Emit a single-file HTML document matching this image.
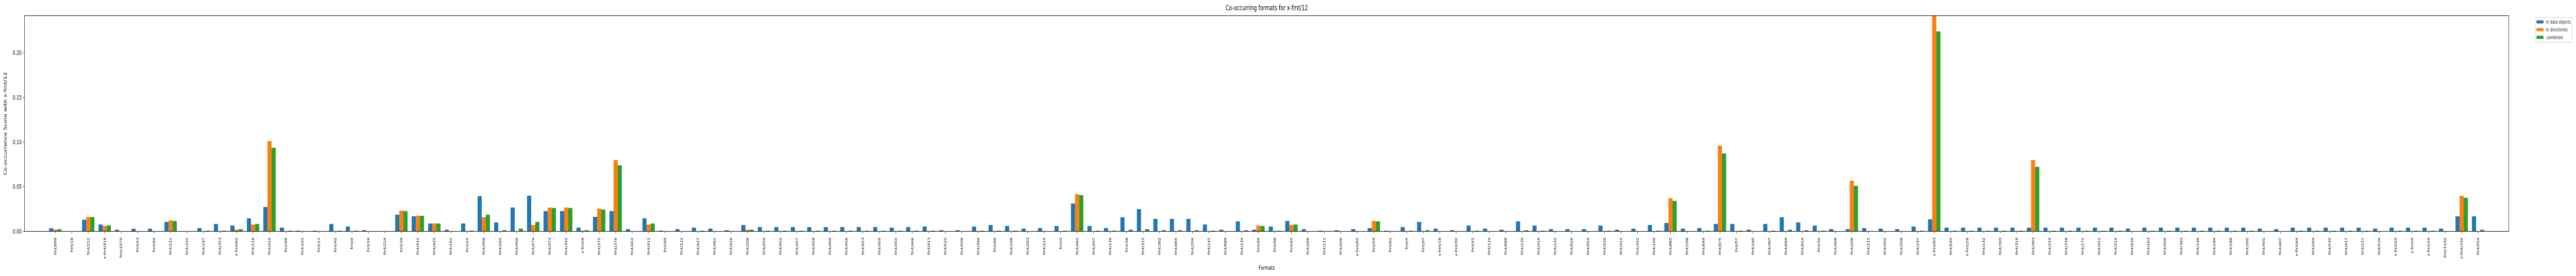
<!DOCTYPE html>
<html><head><meta charset="utf-8">
<style>
html,body{margin:0;padding:0;background:#fff;width:100%;height:100%;overflow:hidden;}
svg{display:block;width:100vw;height:100vh;font-family:"DejaVu Sans","Liberation Sans",sans-serif;}
</style></head>
<body>
<svg id="chart" viewBox="0 0 7380 536" preserveAspectRatio="none" xmlns="http://www.w3.org/2000/svg">
<defs><clipPath id="plotclip"><rect x="70.3" y="30.4" width="7117.4" height="419"/></clipPath></defs>
<rect width="7380" height="536" fill="#fff"/>
<text x="3629" y="20" text-anchor="middle" font-size="14" fill="#000">Co-occurring formats for x-fmt/12</text>
<text transform="translate(19,240) rotate(-90)" text-anchor="middle" font-size="11.5" fill="#000">Co-occurrence Score with x-fmt/12</text>
<text x="3629" y="524" text-anchor="middle" font-size="11.5" fill="#000">Formats</text>
<g id="bars" clip-path="url(#plotclip)"></g>
<g id="yaxis"></g>
<g id="xaxis"></g>
<rect x="70.3" y="30.4" width="7117.4" height="418.9" fill="none" stroke="#000" stroke-width="1"/>
<g>
<rect x="7263.5" y="34" width="106" height="48" rx="2" fill="#fff" stroke="#ccc" stroke-width="1"/>
<rect x="7267" y="39.5" width="20" height="6" fill="#1f77b4"/>
<text x="7294" y="46" font-size="9.5" fill="#222">in data-objects</text>
<rect x="7267" y="54.5" width="20" height="6" fill="#ff7f0e"/>
<text x="7294" y="61" font-size="9.5" fill="#222">in directories</text>
<rect x="7267" y="69.5" width="20" height="6" fill="#2ca02c"/>
<text x="7295" y="76" font-size="9.5" fill="#222">combined</text>
</g>
</svg>
<script>
const categories = ["fmt/899","fmt/18","fmt/212","x-fmt/418","fmt/1070","fmt/43","fmt/44","fmt/111","fmt/331","fmt/197",
"fmt/353","x-fmt/62","fmt/116","fmt/410","fmt/96","fmt/101","fmt/11","fmt/42","fmt/4","fmt/16",
"fmt/224","fmt/39","fmt/421","fmt/425","fmt/161","fmt/15","fmt/409","fmt/265","fmt/469","fmt/474",
"fmt/373","fmt/342","x-fmt/9","fmt/375","fmt/376","fmt/453","fmt/411","fmt/99","fmt/122","fmt/427",
"fmt/461","fmt/426","fmt/208","fmt/454","fmt/452","fmt/457","fmt/458","fmt/460","fmt/456","fmt/453",
"fmt/459","fmt/455","fmt/446","fmt/413","fmt/525","fmt/509","fmt/394","fmt/90","fmt/198","fmt/263",
"fmt/154","fmt/3","fmt/462","fmt/207","fmt/139","fmt/38","fmt/315","fmt/362","fmt/865","fmt/204",
"fmt/141","fmt/689","fmt/134","fmt/40","fmt/98","fmt/45","fmt/266","fmt/111","fmt/406","x-fmt/65",
"fmt/50","fmt/61","fmt/5","fmt/97","x-fmt/18","x-fmt/92","fmt/41","fmt/124","fmt/688","fmt/230",
"fmt/416","fmt/142","fmt/626","fmt/950","fmt/420","fmt/415","fmt/341","fmt/100","fmt/885","fmt/298",
"fmt/649","fmt/875","fmt/57","fmt/185","fmt/367","fmt/660","fmt/610","fmt/34","fmt/408","fmt/206",
"fmt/115","fmt/402","fmt/208","fmt/197","x-fmt/93","fmt/640","x-fmt/28","fmt/142","fmt/303","fmt/316",
"fmt/383","fmt/159","fmt/338","fmt/171","fmt/912","fmt/214","fmt/930","fmt/163","fmt/409","fmt/383",
"fmt/140","fmt/184","fmt/188","fmt/395","fmt/401","fmt/407","x-fmt/64","fmt/269","fmt/535","fmt/417",
"fmt/157","fmt/534","x-fmt/20","x-fmt/4","x-fmt/19","fmt/1102","x-fmt/334","fmt/554"];
const dataObjects = [.0035,0,.013,.0077,.0018,.003,.0031,.0106,0,.0037,
.0083,.0065,.0146,.0273,.0042,.0008,.0008,.0083,.0054,.0013,
0,.0187,.0169,.0088,.0019,.0088,.0394,.01,.0267,.04,
.0227,.0227,.0042,.0163,.0227,.0025,.0146,.0008,.0025,.0042,
.0031,.0013,.0071,.0048,.0048,.0048,.0048,.0048,.0048,.0048,
.0048,.0042,.0048,.0054,.0013,.0013,.0054,.0071,.006,.0031,
.0037,.006,.0313,.006,.0037,.0158,.025,.014,.014,.014,
.0077,.0019,.0112,.0019,.0054,.0117,.0025,.0008,.0013,.0025,
.0037,.0008,.0048,.0106,.0031,.0013,.0065,.0031,.0019,.0112,
.0065,.0025,.0025,.0025,.0065,.0019,.0031,.0071,.0094,.0031,
.0037,.0083,.0083,.0019,.0083,.0158,.01,.0065,.0025,.0025,
.0037,.0031,.0025,.0054,.0135,.0042,.0042,.0042,.0042,.0042,
.0042,.0042,.0042,.0042,.0042,.0042,.0031,.0042,.0042,.0042,
.0042,.0042,.0042,.0042,.0031,.0025,.0042,.0042,.0042,.0042,
.0042,.0031,.0042,.0042,.0042,.0031,.0168,.0168];
const directories = [.002,0,.016,.006,0,0,0,.0123,0,0,
0,.0019,.0077,.1011,0,0,0,0,0,0,
0,.0233,.0175,.0088,0,0,.0158,0,0,.0071,
.0267,.0267,.0008,.0256,.0798,0,.0077,0,0,0,
0,0,.0019,0,0,0,0,0,0,0,
0,0,0,0,0,0,0,0,0,0,
0,0,.0417,0,0,0,0,0,0,0,
0,0,0,.0065,0,.0071,0,0,0,0,
.0117,0,0,0,0,0,0,0,0,0,
0,0,0,0,0,0,0,0,.0371,0,
0,.096,0,0,0,0,0,0,0,.0567,
0,0,0,0,.25,0,0,0,0,0,
.0798,0,0,0,0,0,0,0,0,0,
0,0,0,0,0,0,0,0,0,0,
0,0,0,0,0,0,.0398,0];
const combined = [.0024,0,.016,.0067,0,0,0,.0117,0,.0008,
.0008,.0025,.0083,.0937,.0008,0,0,.0008,.0008,0,
0,.0227,.0175,.0088,0,.0008,.0187,.0013,.0031,.0106,
.0262,.0262,.0013,.0244,.074,0,.0088,0,0,.0008,
0,0,.0019,.0008,.0008,.0008,.0008,.0008,.0008,.0008,
.0008,.0008,.0008,.0008,0,0,.0008,.0008,.0008,0,
0,.0008,.0406,.0008,.0008,.0019,.0025,.0013,.0013,.0013,
.0008,0,.0013,.006,.0008,.0077,0,0,0,0,
.0112,0,.0008,.0013,0,0,.0008,0,0,.0013,
.0008,0,0,0,.0008,0,0,.0008,.0342,0,
.0008,.0873,.0008,0,.0008,.0019,.0013,.0008,0,.051,
0,0,0,.0008,.224,.0008,.0008,.0008,.0008,.0008,
.0723,.0008,.0008,.0008,.0008,.0008,0,.0008,.0008,.0008,
.0008,.0008,.0008,.0008,0,0,.0008,.0008,.0008,.0008,
.0008,0,.0008,.0008,.0008,0,.0376,.0018];
const yTickValues = [0,0.05,0.10,0.15,0.20];
const yTickLabels = ["0.00","0.05","0.10","0.15","0.20"];

const NS = "http://www.w3.org/2000/svg";
const X0 = 158.3, STEP = 47.22, BASE = 449.3, PXPER = 1733;
function xScale(i){ return X0 + i*STEP; }
function yScale(v){ return BASE - v*PXPER; }
const barW = STEP*0.25;
const series = [
  {vals:dataObjects, color:"#1f77b4", off:-1, key:"data-objects"},
  {vals:directories, color:"#ff7f0e", off:0, key:"directories"},
  {vals:combined, color:"#2ca02c", off:1, key:"combined"}
];
const gb = document.getElementById("bars");
series.forEach(s=>{
  s.vals.forEach((v,i)=>{
    if(v<=0) return;
    const r = document.createElementNS(NS,"rect");
    const cx = xScale(i) + s.off*barW;
    r.setAttribute("x", cx - barW/2);
    r.setAttribute("y", yScale(v));
    r.setAttribute("width", barW);
    r.setAttribute("height", BASE - yScale(v));
    r.setAttribute("fill", s.color);
    
    
    gb.appendChild(r);
  });
});
const gy = document.getElementById("yaxis");
yTickValues.forEach((v,k)=>{
  const y = yScale(v);
  const l = document.createElementNS(NS,"line");
  l.setAttribute("x1",66.3); l.setAttribute("x2",70.3);
  l.setAttribute("y1",y); l.setAttribute("y2",y);
  l.setAttribute("stroke","#000");
  
  
  gy.appendChild(l);
  const t = document.createElementNS(NS,"text");
  t.setAttribute("x",62); t.setAttribute("y",y+4);
  t.setAttribute("text-anchor","end");
  t.setAttribute("font-size","11.5");
  t.textContent = yTickLabels[k];
  
  
  gy.appendChild(t);
});
const gx = document.getElementById("xaxis");
categories.forEach((c,i)=>{
  const x = xScale(i);
  const l = document.createElementNS(NS,"line");
  l.setAttribute("x1",x); l.setAttribute("x2",x);
  l.setAttribute("y1",BASE); l.setAttribute("y2",BASE+4);
  l.setAttribute("stroke","#000");
  
  
  gx.appendChild(l);
  const t = document.createElementNS(NS,"text");
  t.setAttribute("transform","translate("+(x+3)+","+(BASE+12)+") rotate(-90)");
  t.setAttribute("text-anchor","end");
  t.setAttribute("font-size","8.5");
  t.textContent = c;
  
  
  gx.appendChild(t);
});
</script>
</body></html>
